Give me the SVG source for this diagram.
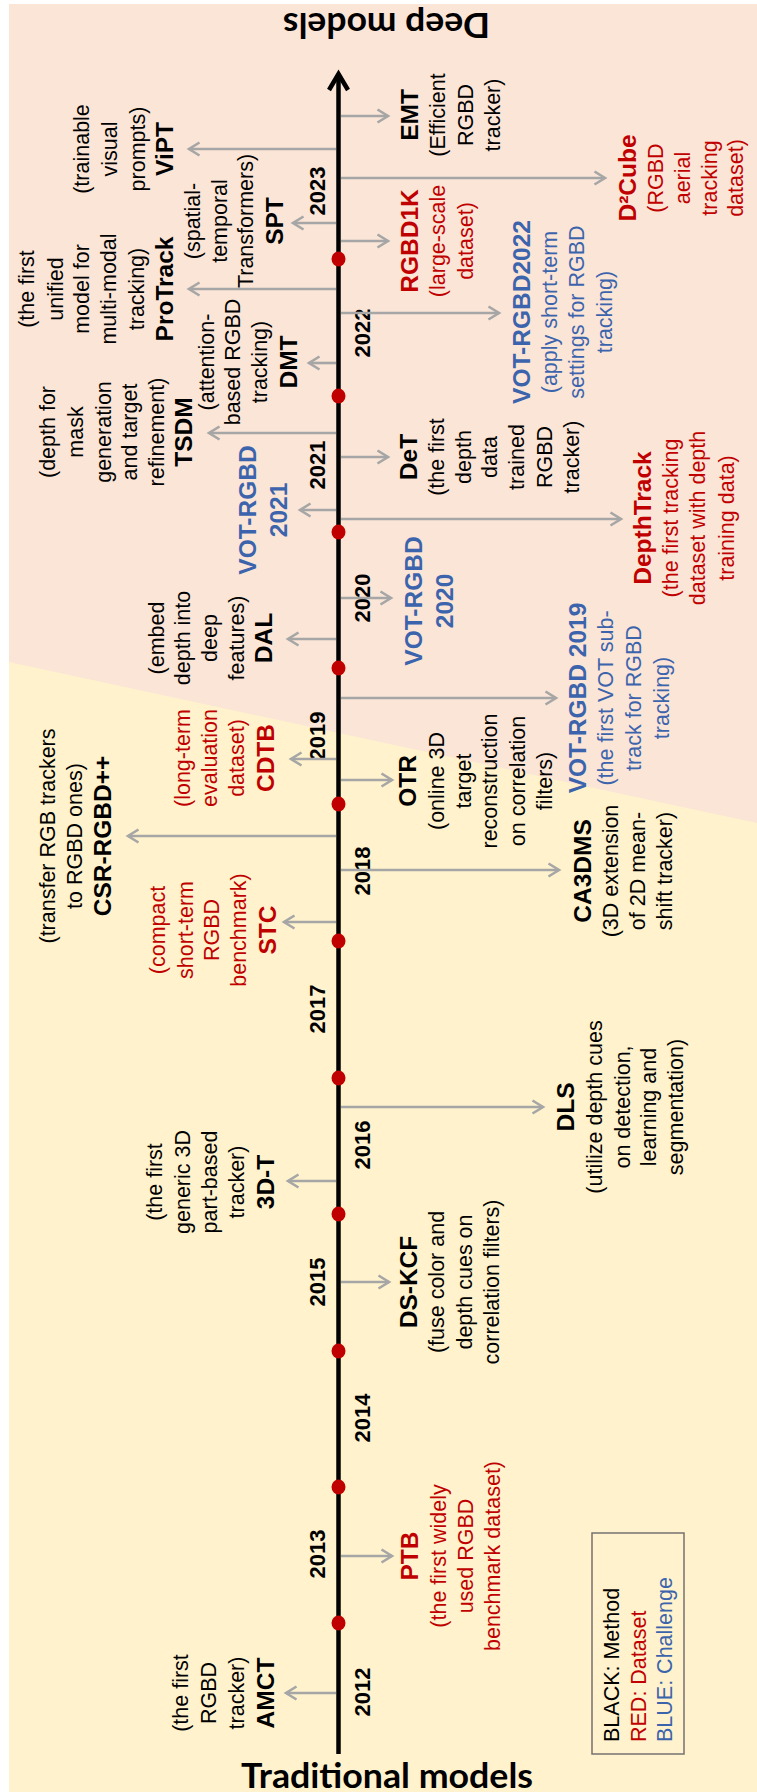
<svg xmlns="http://www.w3.org/2000/svg" width="757" height="1792" viewBox="0 0 757 1792">
  <defs>
    <style>
      text { font-family: "Liberation Sans", Arial, sans-serif; font-size: 21.5px; }
      .blk text, .blk { text-anchor: middle; }
      .t { font-weight: bold; font-size: 24.5px; }
      .k { fill: #000000; }
      .r { fill: #C00000; }
      .b { fill: #3B64AD; }
      .yr { font-weight: bold; font-size: 22px; text-anchor: middle; fill: #000; }
      .era { font-family: Lato, "Liberation Sans", sans-serif; font-weight: bold; font-size: 35px; text-anchor: middle; fill: #000; }
      .conn line { stroke: #A6A6A6; stroke-width: 2.6; fill: none; marker-end: url(#open); }
      .dot { fill: #C00000; }
    </style>
    <marker id="open" markerUnits="userSpaceOnUse" markerWidth="14" markerHeight="15" refX="11" refY="7" orient="auto" overflow="visible">
      <path d="M0.5,0.5 L11,7 L0.5,13.5" fill="none" stroke="#A6A6A6" stroke-width="2.6"/>
    </marker>
  </defs>

  <!-- background: traditional era (yellow) with deep era (peach) wedge on top -->
  <rect x="9" y="4" width="748" height="1788" fill="#FFF2CC"/>
  <polygon points="9,4 757,4 757,823 9,662" fill="#FBE5D6"/>

  <!-- era titles -->
  <text class="era" transform="translate(386.5,13) rotate(180)" x="0" y="0" textLength="207" lengthAdjust="spacingAndGlyphs">Deep models</text>
  <text class="era" x="387" y="1788" textLength="292" lengthAdjust="spacingAndGlyphs">Traditional models</text>

  <!-- time axis -->
  <g id="axis">
    <line x1="338.5" y1="1754" x2="338.5" y2="74" stroke="#000" stroke-width="4.5"/>
    <polyline points="329,90 338.5,74 348,90" fill="none" stroke="#000" stroke-width="4.5"/>
  </g>

  <!-- year separators -->
  <g id="year-dots">
    <ellipse class="dot" cx="338.5" cy="1623" rx="7" ry="7.5"/>
    <ellipse class="dot" cx="338.5" cy="1487" rx="7" ry="7.5"/>
    <ellipse class="dot" cx="338.5" cy="1351" rx="7" ry="7.5"/>
    <ellipse class="dot" cx="338.5" cy="1214" rx="7" ry="7.5"/>
    <ellipse class="dot" cx="338.5" cy="1078" rx="7" ry="7.5"/>
    <ellipse class="dot" cx="338.5" cy="941" rx="7" ry="7.5"/>
    <ellipse class="dot" cx="338.5" cy="804" rx="7" ry="7.5"/>
    <ellipse class="dot" cx="338.5" cy="668" rx="7" ry="7.5"/>
    <ellipse class="dot" cx="338.5" cy="532" rx="7" ry="7.5"/>
    <ellipse class="dot" cx="338.5" cy="396" rx="7" ry="7.5"/>
    <ellipse class="dot" cx="338.5" cy="259" rx="7" ry="7.5"/>
  </g>

  <!-- year labels -->
  <g id="years">
    <text class="yr" transform="translate(0,1692) rotate(-90)" x="0" y="370">2012</text>
    <text class="yr" transform="translate(0,1554) rotate(-90)" x="0" y="325">2013</text>
    <text class="yr" transform="translate(0,1418) rotate(-90)" x="0" y="370">2014</text>
    <text class="yr" transform="translate(0,1282) rotate(-90)" x="0" y="325">2015</text>
    <text class="yr" transform="translate(0,1145) rotate(-90)" x="0" y="370">2016</text>
    <text class="yr" transform="translate(0,1009) rotate(-90)" x="0" y="325">2017</text>
    <text class="yr" transform="translate(0,871) rotate(-90)" x="0" y="370">2018</text>
    <text class="yr" transform="translate(0,736) rotate(-90)" x="0" y="325">2019</text>
    <text class="yr" transform="translate(0,598) rotate(-90)" x="0" y="370">2020</text>
    <text class="yr" transform="translate(0,465) rotate(-90)" x="0" y="325">2021</text>
    <text class="yr" transform="translate(0,333) rotate(-90)" x="0" y="370">2022</text>
    <text class="yr" transform="translate(0,191) rotate(-90)" x="0" y="325">2023</text>
  </g>

  <!-- connectors from the axis to each entry -->
  <g id="connectors" class="conn">
    <line x1="336" y1="149" x2="189" y2="149"/>
    <line x1="336" y1="223" x2="293" y2="223"/>
    <line x1="336" y1="289" x2="189" y2="289"/>
    <line x1="336" y1="363" x2="309" y2="363"/>
    <line x1="336" y1="433" x2="209" y2="433"/>
    <line x1="336" y1="510" x2="300" y2="510"/>
    <line x1="336" y1="639" x2="288" y2="639"/>
    <line x1="336" y1="759" x2="291" y2="759"/>
    <line x1="336" y1="836" x2="128" y2="836"/>
    <line x1="336" y1="922" x2="284" y2="922"/>
    <line x1="336" y1="1181" x2="288" y2="1181"/>
    <line x1="336" y1="1693" x2="286" y2="1693"/>
    <line x1="341" y1="116" x2="388" y2="116"/>
    <line x1="341" y1="178" x2="605" y2="178"/>
    <line x1="341" y1="241" x2="388" y2="241"/>
    <line x1="341" y1="313" x2="499" y2="313"/>
    <line x1="341" y1="457" x2="388" y2="457"/>
    <line x1="341" y1="519" x2="621" y2="519"/>
    <line x1="341" y1="598" x2="391" y2="598"/>
    <line x1="341" y1="698" x2="556" y2="698"/>
    <line x1="341" y1="780" x2="392" y2="780"/>
    <line x1="341" y1="870" x2="559" y2="870"/>
    <line x1="341" y1="1107" x2="543" y2="1107"/>
    <line x1="341" y1="1282" x2="389" y2="1282"/>
    <line x1="341" y1="1556" x2="392" y2="1556"/>
  </g>

  <!-- entries above the axis (left side) -->
  <g id="vipt" class="blk k"><text transform="translate(0,149) rotate(-90)">
    <tspan x="0" y="88.5">(trainable</tspan><tspan x="0" y="116.5">visual</tspan><tspan x="0" y="144.5">prompts)</tspan><tspan class="t" x="0" y="173">ViPT</tspan></text></g>
  <g id="spt" class="blk k"><text transform="translate(0,221) rotate(-90)">
    <tspan x="0" y="199.5">(spatial-</tspan><tspan x="0" y="226.5">temporal</tspan><tspan x="0" y="252.5">Transformers)</tspan><tspan class="t" x="0" y="283">SPT</tspan></text></g>
  <g id="protrack" class="blk k"><text transform="translate(0,289) rotate(-90)">
    <tspan x="0" y="33.5">(the first</tspan><tspan x="0" y="62.5">unified</tspan><tspan x="0" y="88.5">model for</tspan><tspan x="0" y="115.5">multi-modal</tspan><tspan x="0" y="143.5">tracking)</tspan><tspan class="t" x="0" y="173">ProTrack</tspan></text></g>
  <g id="dmt" class="blk k"><text transform="translate(0,362) rotate(-90)">
    <tspan x="0" y="213.5">(attention-</tspan><tspan x="0" y="239.5">based RGBD</tspan><tspan x="0" y="266.5">tracking)</tspan><tspan class="t" x="0" y="297">DMT</tspan></text></g>
  <g id="tsdm" class="blk k"><text transform="translate(0,432) rotate(-90)">
    <tspan x="0" y="54.5">(depth for</tspan><tspan x="0" y="82.5">mask</tspan><tspan x="0" y="110.5">generation</tspan><tspan x="0" y="136.5">and target</tspan><tspan x="0" y="163.5">refinement)</tspan><tspan class="t" x="0" y="192">TSDM</tspan></text></g>
  <g id="vot-rgbd-2021" class="blk b"><text transform="translate(0,510) rotate(-90)">
    <tspan class="t" x="0" y="256">VOT-RGBD</tspan><tspan class="t" x="0" y="287">2021</tspan></text></g>
  <g id="dal" class="blk k"><text transform="translate(0,638) rotate(-90)">
    <tspan x="0" y="163.5">(embed</tspan><tspan x="0" y="189.5">depth into</tspan><tspan x="0" y="216.5">deep</tspan><tspan x="0" y="243.5">features)</tspan><tspan class="t" x="0" y="272">DAL</tspan></text></g>
  <g id="cdtb" class="blk r"><text transform="translate(0,758) rotate(-90)">
    <tspan x="0" y="189.5">(long-term</tspan><tspan x="0" y="216.5">evaluation</tspan><tspan x="0" y="243.5">dataset)</tspan><tspan class="t" x="0" y="274">CDTB</tspan></text></g>
  <g id="csr-rgbd" class="blk k"><text transform="translate(0,836) rotate(-90)">
    <tspan x="0" y="54.5">(transfer RGB trackers</tspan><tspan x="0" y="81.5">to RGBD ones)</tspan><tspan class="t" x="0" y="111">CSR-RGBD++</tspan></text></g>
  <g id="stc" class="blk r"><text transform="translate(0,930) rotate(-90)">
    <tspan x="0" y="164.5">(compact</tspan><tspan x="0" y="192.5">short-term</tspan><tspan x="0" y="218.5">RGBD</tspan><tspan x="0" y="245.5">benchmark)</tspan><tspan class="t" x="0" y="276">STC</tspan></text></g>
  <g id="3d-t" class="blk k"><text transform="translate(0,1182) rotate(-90)">
    <tspan x="0" y="161.5">(the first</tspan><tspan x="0" y="189.5">generic 3D</tspan><tspan x="0" y="216.5">part-based</tspan><tspan x="0" y="243.5">tracker)</tspan><tspan class="t" x="0" y="274">3D-T</tspan></text></g>
  <g id="amct" class="blk k"><text transform="translate(0,1693) rotate(-90)">
    <tspan x="0" y="187.5">(the first</tspan><tspan x="0" y="215.5">RGBD</tspan><tspan x="0" y="243.5">tracker)</tspan><tspan class="t" x="0" y="274">AMCT</tspan></text></g>

  <!-- entries below the axis (right side) -->
  <g id="emt" class="blk k"><text transform="translate(0,115) rotate(-90)">
    <tspan class="t" x="0" y="418">EMT</tspan><tspan x="0" y="444.5">(Efficient</tspan><tspan x="0" y="472.5">RGBD</tspan><tspan x="0" y="499.5">tracker)</tspan></text></g>
  <g id="d2cube" class="blk r"><text transform="translate(0,178) rotate(-90)">
    <tspan class="t" x="0" y="636">D²Cube</tspan><tspan x="0" y="662.5">(RGBD</tspan><tspan x="0" y="689.5">aerial</tspan><tspan x="0" y="716.5">tracking</tspan><tspan x="0" y="742.5">dataset)</tspan></text></g>
  <g id="rgbd1k" class="blk r"><text transform="translate(0,241) rotate(-90)">
    <tspan class="t" x="0" y="418">RGBD1K</tspan><tspan x="0" y="444.5">(large-scale</tspan><tspan x="0" y="472.5">dataset)</tspan></text></g>
  <g id="vot-rgbd2022" class="blk b"><text transform="translate(0,312) rotate(-90)">
    <tspan class="t" x="0" y="530">VOT-RGBD2022</tspan><tspan x="0" y="556.5">(apply short-term</tspan><tspan x="0" y="583.5">settings for RGBD</tspan><tspan x="0" y="611.5">tracking)</tspan></text></g>
  <g id="det" class="blk k"><text transform="translate(0,457) rotate(-90)">
    <tspan class="t" x="0" y="417">DeT</tspan><tspan x="0" y="443.5">(the first</tspan><tspan x="0" y="470.5">depth</tspan><tspan x="0" y="496.5">data</tspan><tspan x="0" y="523.5">trained</tspan><tspan x="0" y="551.5">RGBD</tspan><tspan x="0" y="578.5">tracker)</tspan></text></g>
  <g id="depthtrack" class="blk r"><text transform="translate(0,518) rotate(-90)">
    <tspan class="t" x="0" y="651">DepthTrack</tspan><tspan x="0" y="677.5">(the first tracking</tspan><tspan x="0" y="704.5">dataset with depth</tspan><tspan x="0" y="733.5">training data)</tspan></text></g>
  <g id="vot-rgbd-2020" class="blk b"><text transform="translate(0,601) rotate(-90)">
    <tspan class="t" x="0" y="422">VOT-RGBD</tspan><tspan class="t" x="0" y="453">2020</tspan></text></g>
  <g id="vot-rgbd-2019" class="blk b"><text transform="translate(0,698) rotate(-90)">
    <tspan class="t" x="0" y="586">VOT-RGBD 2019</tspan><tspan x="0" y="612.5">(the first VOT sub-</tspan><tspan x="0" y="640.5">track for RGBD</tspan><tspan x="0" y="668.5">tracking)</tspan></text></g>
  <g id="otr" class="blk k"><text transform="translate(0,781) rotate(-90)">
    <tspan class="t" x="0" y="416">OTR</tspan><tspan x="0" y="443.5">(online 3D</tspan><tspan x="0" y="470.5">target</tspan><tspan x="0" y="496.5">reconstruction</tspan><tspan x="0" y="524.5">on correlation</tspan><tspan x="0" y="551.5">filters)</tspan></text></g>
  <g id="ca3dms" class="blk k"><text transform="translate(0,871) rotate(-90)">
    <tspan class="t" x="0" y="591">CA3DMS</tspan><tspan x="0" y="617.5">(3D extension</tspan><tspan x="0" y="644.5">of 2D mean-</tspan><tspan x="0" y="671.5">shift tracker)</tspan></text></g>
  <g id="dls" class="blk k"><text transform="translate(0,1107) rotate(-90)">
    <tspan class="t" x="0" y="574">DLS</tspan><tspan x="0" y="601.5">(utilize depth cues</tspan><tspan x="0" y="629.5">on detection,</tspan><tspan x="0" y="655.5">learning and</tspan><tspan x="0" y="682.5">segmentation)</tspan></text></g>
  <g id="ds-kcf" class="blk k"><text transform="translate(0,1282) rotate(-90)">
    <tspan class="t" x="0" y="417">DS-KCF</tspan><tspan x="0" y="443.5">(fuse color and</tspan><tspan x="0" y="471.5">depth cues on</tspan><tspan x="0" y="498.5">correlation filters)</tspan></text></g>
  <g id="ptb" class="blk r"><text transform="translate(0,1556) rotate(-90)">
    <tspan class="t" x="0" y="418">PTB</tspan><tspan x="0" y="445.5">(the first widely</tspan><tspan x="0" y="472.5">used RGBD</tspan><tspan x="0" y="499.5">benchmark dataset)</tspan></text></g>

  <!-- colour legend -->
  <g id="legend">
    <rect x="592" y="1533" width="92" height="221" fill="none" stroke="#767171" stroke-width="1.5"/>
    <text transform="translate(0,1742) rotate(-90)">
      <tspan class="k" x="0" y="619">BLACK: Method</tspan><tspan class="r" x="0" y="646">RED: Dataset</tspan><tspan class="b" x="0" y="672">BLUE: Challenge</tspan></text>
  </g>
</svg>
